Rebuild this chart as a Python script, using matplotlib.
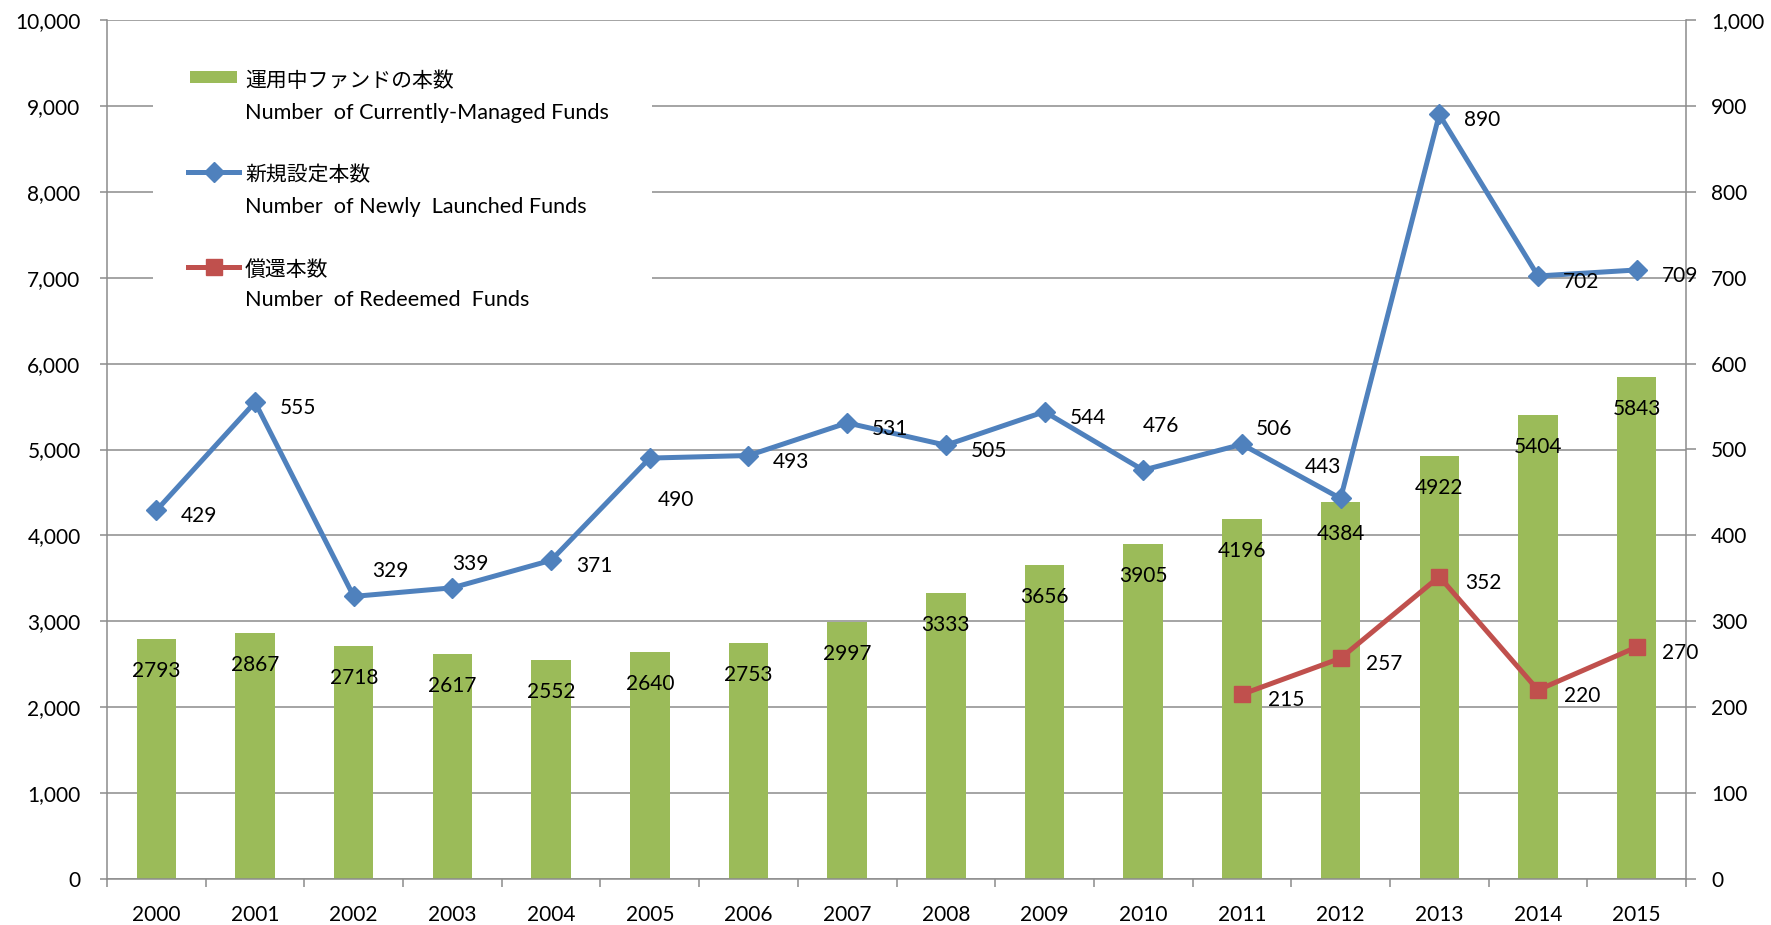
import numpy as np
import matplotlib
matplotlib.use('Agg')
from matplotlib import pyplot as plt
from matplotlib.patches import Rectangle
from matplotlib.lines import Line2D

plt.rcParams['font.family'] = ['Lato', 'Noto Sans CJK JP']

# data
years = ['2000', '2001', '2002', '2003', '2004', '2005', '2006', '2007',
         '2008', '2009', '2010', '2011', '2012', '2013', '2014', '2015']
managed = [2793, 2867, 2718, 2617, 2552, 2640, 2753, 2997,
           3333, 3656, 3905, 4196, 4384, 4922, 5404, 5843]
launched = [429, 555, 329, 339, 371, 490, 493, 531,
            505, 544, 476, 506, 443, 890, 702, 709]
redeemed_years = ['2011', '2012', '2013', '2014', '2015']
redeemed = [215, 257, 352, 220, 270]

left_ticks = [0, 1000, 2000, 3000, 4000, 5000, 6000, 7000, 8000, 9000, 10000]
right_ticks = [0, 100, 200, 300, 400, 500, 600, 700, 800, 900, 1000]

GREEN = '#9BBB59'
BLUE = '#4F81BD'
RED = '#C0504D'
GRID = '#8C8C8C'
FS = 15

# label offsets in pixels, the few that were moved by hand
launched_offsets = {2: (37, 27), 3: (18, 26), 5: (26, -40), 10: (18, 46),
                    11: (32, 17), 12: (-18, 33)}

fig = plt.figure(figsize=(17.71, 9.25), dpi=100)
ax = fig.add_axes([107 / 1771, 46 / 925, 1579 / 1771, 859 / 925])
ax2 = ax.twinx()

x = np.arange(len(years))
ax.bar(x, managed, width=0.4, color=GREEN, zorder=2)
for i, v in enumerate(managed):
    ax.annotate(str(v), (x[i], v), xytext=(0, -30), textcoords='offset pixels',
                ha='center', va='center_baseline', fontsize=FS, zorder=3)

ax.set_xlim(-0.5, len(years) - 0.5)
ax.set_ylim(0, 10000)
ax.set_yticks(left_ticks)
ax.set_yticklabels([f'{t:,}' for t in left_ticks])
ax.yaxis.grid(True, color=GRID, linewidth=1.1, zorder=0)
ax.set_axisbelow(True)

# x axis: ticks on category borders, labels in centres
ax.set_xticks(np.arange(len(years) + 1) - 0.5)
ax.set_xticklabels([''] * (len(years) + 1))
ax.set_xticks(x, minor=True)
ax.set_xticklabels(years, minor=True)
ax.tick_params(axis='x', which='major', length=6, width=1.1, color=GRID)
ax.tick_params(axis='x', which='minor', length=0, pad=18.5, labelsize=FS)
ax.tick_params(axis='y', length=5, width=1.1, color=GRID, pad=14, labelsize=FS)

for s in ['left', 'right', 'bottom']:
    ax.spines[s].set_color(GRID)
    ax.spines[s].set_linewidth(1.1)
ax.spines['top'].set_visible(False)

# lines on the right axis
ax2.plot(x, launched, color=BLUE, linewidth=3.6, marker='D', markersize=10,
         zorder=4)
for i, v in enumerate(launched):
    dx, dy = launched_offsets.get(i, (43, -4))
    ax2.annotate(str(v), (x[i], v), xytext=(dx, dy), textcoords='offset pixels',
                 ha='center', va='center_baseline', fontsize=FS, zorder=5)

rx = [years.index(y) for y in redeemed_years]
ax2.plot(rx, redeemed, color=RED, linewidth=3.6, marker='s', markersize=12,
         zorder=4)
for i, v in zip(rx, redeemed):
    ax2.annotate(str(v), (i, v), xytext=(44, -4), textcoords='offset pixels',
                 ha='center', va='center_baseline', fontsize=FS, zorder=5)

ax2.set_ylim(0, 1000)
ax2.set_yticks(right_ticks)
ax2.set_yticklabels([f'{t:,}' for t in right_ticks])
ax2.tick_params(axis='y', length=7, width=1.1, color=GRID, pad=11, labelsize=FS)
for s in ax2.spines.values():
    s.set_visible(False)

# legend, drawn by hand in figure inches (blocks the grid behind it)
tr = fig.dpi_scale_trans
H = 9.25
fig.add_artist(Rectangle((1.53, H - 3.30), 4.99, 2.90, transform=tr,
                         facecolor='white', edgecolor='none', zorder=5))
fig.add_artist(Rectangle((1.90, H - 0.83), 0.47, 0.12, transform=tr,
                         facecolor=GREEN, edgecolor='none', zorder=6))
fig.add_artist(Line2D([1.88, 2.39], [H - 1.72, H - 1.72], transform=tr,
                      color=BLUE, linewidth=3.6, zorder=6))
fig.add_artist(Line2D([2.14], [H - 1.72], transform=tr, color=BLUE,
                      marker='D', markersize=10, zorder=6))
fig.add_artist(Line2D([1.88, 2.39], [H - 2.67, H - 2.67], transform=tr,
                      color=RED, linewidth=3.6, zorder=6))
fig.add_artist(Line2D([2.14], [H - 2.67], transform=tr, color=RED,
                      marker='s', markersize=12, zorder=6))

legend_texts = [
    ('運用中ファンドの本数', 0.79, FS),
    ('Number  of Currently-Managed Funds', 1.11, 15.6),
    ('新規設定本数', 1.73, FS),
    ('Number  of Newly  Launched Funds', 2.05, 15.6),
    ('償還本数', 2.68, FS),
    ('Number  of Redeemed  Funds', 2.98, 15.6),
]
for txt, ytop, size in legend_texts:
    fig.text(2.45, H - ytop, txt, transform=tr, fontsize=size, ha='left',
             va='center_baseline', zorder=7)

plt.savefig('out.png', dpi=100)
